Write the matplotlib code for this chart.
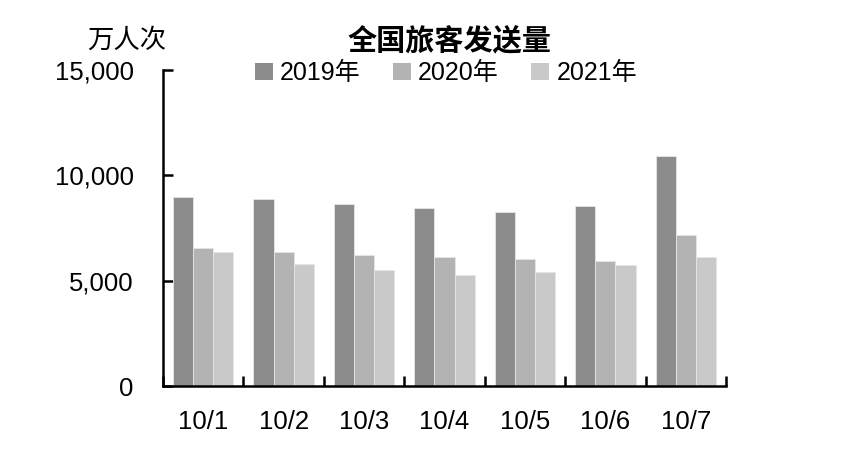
import matplotlib
matplotlib.use("Agg")
import matplotlib.pyplot as plt
import numpy as np
from matplotlib.patches import Patch

plt.rcParams['font.family'] = ['Liberation Sans', 'Noto Sans CJK SC', 'DejaVu Sans']

categories = ['10/1', '10/2', '10/3', '10/4', '10/5', '10/6', '10/7']
series_names = ['2019年', '2020年', '2021年']
v2019 = [8970, 8880, 8660, 8450, 8250, 8550, 10900]
v2020 = [6550, 6340, 6240, 6130, 6020, 5920, 7190]
v2021 = [6340, 5810, 5500, 5290, 5390, 5720, 6130]
colors = ['#8c8c8c', '#b3b3b3', '#c9c9c9']
yticks = [0, 5000, 10000, 15000]
ytick_labels = ['0', '5,000', '10,000', '15,000']

fig = plt.figure(figsize=(8.68, 4.5), dpi=100)
ax = fig.add_axes([163/868, 1-386/450, (726-163)/868, (386-70)/450])

x = np.arange(len(categories))
w = 0.25
for i, (vals, c) in enumerate(zip([v2019, v2020, v2021], colors)):
    ax.bar(x + (i-1)*w, vals, width=w, color=c, edgecolor='#e6e6e6', linewidth=0.6, zorder=2)

ax.set_xlim(-0.5, len(categories)-0.5)
ax.set_ylim(0, 15000)
ax.set_yticks(yticks)
ax.set_yticklabels(ytick_labels, fontsize=18.5)
ax.set_xticks(x)
ax.set_xticklabels(categories, fontsize=18.5)
ax.set_xticks(np.arange(-0.5, len(categories)), minor=True)

for s in ['top', 'right']:
    ax.spines[s].set_visible(False)
for s in ['left', 'bottom']:
    ax.spines[s].set_linewidth(1.8)

ax.tick_params(axis='y', direction='in', length=7, width=1.8, pad=21)
ax.tick_params(axis='x', which='major', length=0, pad=17)
ax.tick_params(axis='x', which='minor', direction='in', length=7, width=1.8)

fig.text(450/868, 1-41/450, '全国旅客发送量', fontsize=21, fontweight='bold',
         ha='center', va='center', family=['Noto Sans CJK SC', 'DejaVu Sans'])
fig.text(127/868, 1-40/450, '万人次', fontsize=19, ha='center', va='center',
         family=['Noto Sans CJK SC', 'DejaVu Sans'])

handles = [Patch(facecolor=c, edgecolor='none') for c in colors]
leg = fig.legend(handles, series_names, loc='center', bbox_to_anchor=(446/868, 1-73/450),
                 ncol=3, frameon=False, fontsize=18, handlelength=0.7, handleheight=0.7,
                 handletextpad=0.3, columnspacing=1.3)

fig.savefig('out.png', dpi=100)
